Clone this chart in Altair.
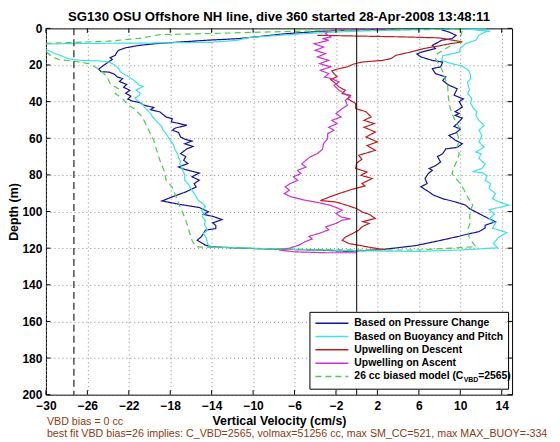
import altair as alt
import pandas as pd

FONT = "Liberation Sans"

# ---------------- data: (vertical velocity cm/s, depth m), in time order ----------------
blue = [(9.0,0.3),(4.0,0.5),(0.0,0.7),(-3.5,1.6),(-7.0,3.0),(-9.5,4.5),(-11.4,5.6),(-14.5,6.5),(-17.2,7.5),
 (-19.5,8.4),(-21.0,9.3),(-22.3,10.6),(-23.0,12.0),(-23.2,13.5),(-23.3,14.7),(-23.8,16.0),(-23.6,17.0),
 (-24.1,18.9),(-24.5,20.5),(-24.9,22.2),(-24.7,23.6),(-23.9,23.9),(-23.4,25.0),(-23.1,26.6),(-22.6,27.4),
 (-22.9,29.0),(-22.2,30.6),(-22.5,32.2),(-21.9,33.8),(-22.3,35.4),(-21.8,37.0),(-22.1,38.6),(-21.7,39.6),
 (-20.9,40.6),(-20.5,42.0),(-19.6,43.2),(-19.9,44.4),(-19.0,45.6),(-18.7,47.0),(-18.4,48.4),(-17.8,49.3),
 (-17.9,51.0),(-16.4,52.9),(-17.5,54.4),(-17.8,55.6),(-17.2,56.8),(-17.0,59.3),(-16.6,60.5),(-15.9,61.5),
 (-16.6,63.0),(-15.8,64.5),(-16.4,65.8),(-17.0,68.4),(-16.5,70.0),(-16.7,72.0),(-16.3,73.8),(-17.2,75.7),
 (-16.6,77.0),(-15.2,79.0),(-15.9,81.0),(-15.2,82.9),(-15.7,84.8),(-15.5,86.6),(-16.5,89.3),(-17.8,92.0),
 (-18.8,94.2),(-17.2,96.0),(-15.2,97.8),(-14.3,100.2),(-14.8,101.5),(-13.8,102.8),(-13.0,104.4),(-13.9,106.2),
 (-13.6,107.6),(-13.6,109.3),(-14.6,110.2),(-14.8,112.0),(-15.0,113.8),(-15.4,115.7),(-14.6,118.4),(-13.9,119.3),
 (-10.0,120.2),(-4.0,121.0),(-0.7,121.7),(2.4,120.8),(5.7,118.6),(7.9,116.0),(9.9,113.5),(10.8,112.2),
 (11.8,111.0),(12.4,109.0),(12.4,107.5),(13.4,105.6),(12.8,104.0),(12.1,102.0),(11.5,100.2),(10.9,98.5),
 (10.5,96.5),(9.5,94.7),(8.3,93.0),(7.4,91.0),(6.9,89.0),(6.2,86.5),(6.8,84.7),(6.6,82.0),(6.9,79.3),
 (7.3,77.5),(7.0,76.5),(7.6,75.0),(8.1,73.0),(7.8,70.0),(8.3,68.4),(8.6,65.8),(9.7,65.0),(10.2,63.0),
 (9.5,61.0),(8.9,58.4),(9.6,57.0),(10.0,55.0),(9.4,53.5),(9.7,52.0),(10.2,49.0),(9.5,47.5),(9.9,46.5),
 (9.5,45.5),(10.2,43.0),(9.9,40.0),(10.3,38.5),(9.4,36.5),(9.7,33.0),(8.9,31.0),(8.6,29.8),(8.3,28.4),
 (8.6,26.5),(7.6,24.7),(7.3,22.0),(8.1,21.0),(8.3,18.4),(7.3,17.5),(6.2,15.6),(5.8,14.0),(6.3,12.9),
 (7.6,11.0),(7.3,9.3),(8.2,6.5),(9.2,5.6),(9.6,3.8),(8.9,2.0),(8.2,0.8)]

cyan = [(12.5,0.2),(8.0,0.5),(3.0,1.0),(-2.0,2.0),(-6.0,3.2),(-8.5,4.2),(-10.4,5.0),(-11.5,6.5),(-14.0,7.6),
 (-20.0,8.0),(-26.0,8.2),(-31.0,8.6),(-30.6,10.2),(-29.8,12.0),(-29.1,13.8),(-28.4,15.2),(-27.9,16.5),
 (-27.3,17.1),(-26.5,17.5),(-24.9,17.8),(-23.9,18.4),(-23.3,20.2),(-23.0,22.0),(-22.8,23.8),(-22.4,25.2),
 (-22.0,26.5),(-21.6,28.0),(-21.3,29.3),(-21.0,31.1),(-20.6,31.6),(-21.3,33.8),(-20.9,35.2),(-21.0,36.6),
 (-21.4,38.0),(-21.2,39.3),(-20.7,41.0),(-20.5,43.0),(-20.2,44.7),(-19.9,46.5),(-19.7,48.4),(-19.4,50.2),
 (-19.1,52.0),(-18.8,53.8),(-18.7,55.6),(-18.4,57.5),(-18.0,61.0),(-17.7,63.5),(-17.5,66.6),(-17.3,68.5),
 (-17.2,70.5),(-17.0,72.5),(-17.1,74.0),(-16.9,75.7),(-16.8,77.5),(-16.6,80.0),(-16.6,82.9),(-16.2,85.5),
 (-15.9,88.4),(-15.6,91.0),(-15.3,93.8),(-14.8,96.0),(-14.6,97.5),(-15.0,99.3),(-14.7,101.0),(-14.9,102.9),
 (-14.6,105.0),(-14.7,107.0),(-14.4,110.2),(-14.8,112.0),(-14.5,114.5),(-14.4,117.5),(-14.2,119.3),
 (-8.0,120.4),(0.0,121.4),(6.0,121.8),(10.0,121.0),(13.6,119.8),(13.2,117.5),(13.7,114.0),(14.5,111.5),
 (13.1,109.0),(13.4,106.5),(12.8,104.0),(13.3,101.5),(12.8,99.0),(14.7,96.5),(13.7,94.7),(13.1,93.0),
 (13.4,90.2),(12.8,87.5),(12.9,84.7),(12.4,83.0),(12.6,80.5),(12.1,78.8),(11.2,78.2),(12.1,76.5),
 (12.4,74.0),(11.8,71.0),(12.0,68.4),(11.5,67.5),(12.3,64.8),(11.8,62.0),(12.1,58.4),(11.8,55.6),
 (12.3,53.0),(11.8,50.2),(11.5,47.5),(11.6,45.5),(11.3,43.8),(11.0,41.0),(11.1,38.0),(10.7,35.6),
 (10.9,33.5),(10.8,32.0),(10.7,29.3),(11.0,27.5),(11.0,25.6),(10.8,22.9),(10.3,21.0),(9.9,20.2),
 (9.0,19.0),(8.2,17.5),(8.3,15.0),(9.9,13.0),(10.0,11.0),(10.5,8.3),(11.5,6.5),(11.8,3.8),(12.4,2.0),
 (12.9,1.5),(11.8,1.1),(11.0,0.5)]

red = [(-3.8,3.8),(0.0,4.2),(4.0,4.6),(8.0,5.2),(10.2,7.4),(9.0,8.4),(8.0,9.5),(6.5,11.0),(5.5,12.5),
 (4.5,13.8),(3.8,14.7),(3.3,16.5),(2.5,17.5),(0.5,18.4),(-0.3,19.5),(-0.9,21.0),(-1.7,22.0),(-2.4,23.2),
 (-2.2,24.7),(-1.9,26.4),(-2.5,28.0),(-2.2,29.3),(-1.7,32.0),(-1.1,33.8),(-1.4,35.6),(-0.6,36.6),
 (-0.9,38.4),(-0.1,41.0),(-0.1,43.8),(0.9,45.5),(1.4,48.4),(0.7,50.2),(1.7,52.0),(0.7,54.0),(1.8,56.6),
 (0.9,59.3),(2.0,62.0),(1.0,64.0),(1.8,66.6),(0.2,69.3),(0.5,71.5),(0.0,73.5),(-0.1,76.5),(1.0,78.4),
 (0.4,80.2),(1.5,82.0),(0.5,84.7),(0.8,86.0),(-0.5,88.0),(-1.6,90.0),(-2.6,92.0),(-3.5,94.0),(-2.0,94.8),
 (-1.0,96.5),(0.0,98.4),(0.5,100.2),(1.2,101.5),(1.8,103.8),(0.6,105.5),(1.2,106.5),(0.5,108.4),
 (0.2,110.2),(-0.4,112.0),(-1.1,114.0),(-1.4,115.7),(-0.75,117.5),(0.2,118.4),(1.5,119.8),(2.8,120.8)]

magenta = [(0.0,122.5),(-3.0,122.5),(-6.0,122.0),(-7.5,121.0),(-6.5,120.0),(-5.6,118.4),(-5.0,116.5),
 (-4.3,115.0),(-4.6,113.5),(-3.65,112.0),(-2.7,110.0),(-3.0,108.4),(-2.0,106.5),(-1.4,104.7),(-0.6,104.0),
 (-1.5,103.0),(-2.0,101.0),(-1.4,99.3),(-1.9,98.0),(-2.6,96.5),(-3.8,95.0),(-5.0,93.8),(-6.3,92.0),
 (-7.0,90.2),(-6.5,88.4),(-6.9,86.5),(-6.4,84.7),(-5.7,83.0),(-6.1,81.0),(-5.4,79.3),(-5.7,77.5),
 (-4.9,75.7),(-5.3,74.0),(-4.9,72.0),(-4.5,70.2),(-3.8,68.4),(-3.3,66.0),(-3.2,63.0),(-2.8,60.2),
 (-2.8,57.5),(-2.2,55.6),(-2.7,54.0),(-1.9,52.0),(-2.4,50.2),(-1.5,48.4),(-2.0,46.5),(-1.4,43.8),
 (-0.9,42.0),(-1.1,39.3),(-0.6,37.5),(-1.2,35.6),(-1.7,33.8),(-2.2,31.1),(-1.7,29.3),(-2.4,27.5),
 (-3.1,26.6),(-2.7,24.7),(-3.5,22.9),(-2.5,21.0),(-3.6,19.3),(-2.7,17.5),(-3.8,15.6),(-3.0,13.8),
 (-4.0,12.0),(-3.2,10.2),(-4.1,8.4),(-2.7,6.5),(-3.3,5.6),(-2.5,4.7),(-3.0,2.9),(-2.7,1.1),(0.0,0.4),(3.0,0.2)]

green = [(10.0,0.5),(4.0,0.8),(-2.0,1.2),(-6.0,1.6),(-10.0,2.2),(-14.0,2.8),(-19.0,3.4),(-21.0,5.5),
 (-24.0,7.0),(-28.0,7.8),(-31.0,8.3),(-30.6,11.0),(-30.0,12.5),(-29.4,15.6),(-28.7,17.1),(-27.5,17.8),
 (-25.8,19.3),(-24.7,22.9),(-24.1,26.5),(-23.8,30.2),(-23.0,32.9),(-23.3,35.6),(-22.6,38.4),(-22.2,41.1),
 (-21.3,44.7),(-20.7,48.4),(-20.3,52.9),(-20.0,56.5),(-19.6,61.1),(-19.3,66.6),(-19.0,72.0),(-18.6,77.5),
 (-18.4,82.9),(-17.8,86.6),(-17.5,91.0),(-17.3,93.8),(-16.9,99.3),(-16.5,104.7),(-16.2,110.2),
 (-15.9,115.7),(-15.5,119.3),(-8.0,120.5),(0.0,121.0),(6.0,121.0),(11.5,119.2),(11.2,117.0),(10.9,115.0),
 (10.7,110.0),(11.0,105.6),(10.9,103.0),(11.0,99.0),(11.2,96.5),(10.7,92.0),(10.4,88.5),(10.0,84.7),
 (9.5,81.5),(9.2,79.3),(9.4,75.7),(9.7,72.0),(9.9,68.4),(9.7,64.8),(9.9,61.0),(9.7,57.5),(9.9,54.0),
 (9.5,50.2),(9.2,46.5),(9.0,43.0),(8.9,39.3),(8.8,35.6),(8.8,32.0),(8.6,28.4),(8.4,24.7),(8.1,21.0),
 (7.6,16.5),(7.8,13.8),(8.6,11.0),(9.5,8.3),(10.0,4.7),(10.2,1.1)]

series_names = ["Based on Pressure Change", "Based on Buoyancy and Pitch", "Upwelling on Descent",
                "Upwelling on Ascent", "26 cc biased model (C_VBD=2565)"]
series_data = [blue, cyan, red, magenta, green]
series_colors = ["#12129c", "#3fe3e3", "#bd1f1f", "#cc33cc", "#4ccc4c"]
series_dashes = [[1, 0], [1, 0], [1, 0], [1, 0], [6, 4]]

x_ticks = [-30, -26, -22, -18, -14, -10, -6, -2, 2, 6, 10, 14]
y_ticks = [0, 20, 40, 60, 80, 100, 120, 140, 160, 180, 200]
zero_line = [0]
bias_line = [-27.3]

title_text = "SG130 OSU Offshore NH line, dive 360 started 28-Apr-2008 13:48:11"
note1 = "VBD bias = 0 cc"
note2 = "best fit VBD bias=26 implies: C_VBD=2565, volmax=51256 cc, max SM_CC=521, max MAX_BUOY=-334"

# ---------------- build table ----------------
rows = []
for name, pts in zip(series_names, series_data):
    for i, (v, d) in enumerate(pts):
        rows.append({"series": name, "v": v, "d": d, "i": i})
df = pd.DataFrame(rows)

W, H = 467, 367
LX, LY, LPAD = 264, 284, 5           # legend box position / padding (pixels in plot)
ROW = 13.3

X = alt.X("v:Q", scale=alt.Scale(domain=[-30, 15], nice=False, zero=False),
          axis=alt.Axis(values=x_ticks, title="Vertical Velocity (cm/s)", grid=True, ticks=False,
                        tickSize=0, domain=False, labelPadding=6, titlePadding=3, labelFlush=False,
                        labelFontSize=12, titleFontSize=12.4))
Y = alt.Y("d:Q", scale=alt.Scale(domain=[0, 200], reverse=True, nice=False, zero=False),
          axis=alt.Axis(values=y_ticks, title="Depth (m)", grid=True, ticks=False, tickSize=0,
                        domain=False, labelPadding=4, titlePadding=1, labelFlush=False,
                        labelFontSize=12, titleFontSize=12.4))

legend = alt.Legend(title=None, orient="none", legendX=LX, legendY=LY, symbolType="stroke",
                    symbolSize=1089, symbolStrokeWidth=1.5, labelFontSize=10.4, labelFont=FONT,
                    labelFontWeight="bold", labelColor="black", labelOffset=5, clipHeight=13,
                    rowPadding=0.3, padding=LPAD, strokeColor="black",
                    labelLimit=400,
                    labelExpr="datum.label == '26 cc biased model (C_VBD=2565)' ? '26 cc biased model (C' : datum.label")

lines = alt.Chart(df).mark_line(clip=True, strokeWidth=1.2).encode(
    x=X, y=Y, order="i:Q",
    color=alt.Color("series:N", scale=alt.Scale(domain=series_names, range=series_colors), legend=legend),
    strokeDash=alt.StrokeDash("series:N", scale=alt.Scale(domain=series_names, range=series_dashes), legend=legend),
)

zero_rule = alt.Chart(pd.DataFrame({"v": zero_line})).mark_rule(color="black", strokeWidth=1).encode(x=X)
bias_rule = alt.Chart(pd.DataFrame({"v": bias_line})).mark_rule(color="#333333", strokeWidth=1.3,
                                                                 strokeDash=[7, 4]).encode(x=X)

xt = pd.DataFrame({"v": x_ticks})
yt = pd.DataFrame({"d": y_ticks})
tick_top = alt.Chart(xt).mark_rule(color="black").encode(x=X, y=alt.value(0), y2=alt.value(4.5))
tick_bot = alt.Chart(xt).mark_rule(color="black").encode(x=X, y=alt.value(H), y2=alt.value(H - 4.5))
tick_left = alt.Chart(yt).mark_rule(color="black").encode(y=Y, x=alt.value(0), x2=alt.value(4.5))
tick_right = alt.Chart(yt).mark_rule(color="black").encode(y=Y, x=alt.value(W), x2=alt.value(W - 4.5))

# white background of the legend box (hides grid and zero line under the legend)
legend_bg = alt.Chart(pd.DataFrame({"t": ["bg"]})).mark_rect(color="white").encode(
    x=alt.value(LX), x2=alt.value(LX + 196), y=alt.value(LY), y2=alt.value(LY + 77))

# subscript parts of the last legend label
row5 = LY + LPAD + 4 * ROW + 6.5
sub_txt = alt.Chart(pd.DataFrame({"t": ["VBD"]})).mark_text(
    font=FONT, fontWeight="bold", fontSize=7, align="left", baseline="middle", color="black"
).encode(text="t:N", x=alt.value(418.5), y=alt.value(row5 + 4))
sub_txt2 = alt.Chart(pd.DataFrame({"t": ["=2565)"]})).mark_text(
    font=FONT, fontWeight="bold", fontSize=10.4, align="left", baseline="middle", color="black"
).encode(text="t:N", x=alt.value(433), y=alt.value(row5))

n1 = alt.Chart(pd.DataFrame({"t": [note1]})).mark_text(
    font=FONT, fontSize=10.7, align="left", baseline="middle", color="#8a3c10"
).encode(text="t:N", x=alt.value(1), y=alt.value(H + 27.5))
n2 = alt.Chart(pd.DataFrame({"t": [note2]})).mark_text(
    font=FONT, fontSize=10.7, align="left", baseline="middle", color="#8a3c10"
).encode(text="t:N", x=alt.value(1), y=alt.value(H + 39.5))

chart = alt.layer(
    lines, bias_rule, zero_rule, tick_top, tick_bot, tick_left, tick_right,
    legend_bg, sub_txt, sub_txt2, n1, n2
).properties(
    width=W, height=H,
    padding={"left": 38, "top": 20, "right": 40, "bottom": 47},
    autosize=alt.AutoSizeParams(type="none"),
    title=alt.Title(title_text, font=FONT, fontSize=13.2, fontWeight="bold", color="black",
                    anchor="middle", offset=1, dy=2.5),
).configure_view(
    stroke="black", strokeWidth=1
).configure_axis(
    labelFont=FONT, titleFont=FONT, labelFontWeight="bold", titleFontWeight="bold",
    labelColor="black", titleColor="black", gridColor="#8c8c8c", gridDash=[1, 3], gridWidth=1,
    gridOpacity=1
)

chart.save("out.html", embed_options={"renderer": "svg", "actions": False})
